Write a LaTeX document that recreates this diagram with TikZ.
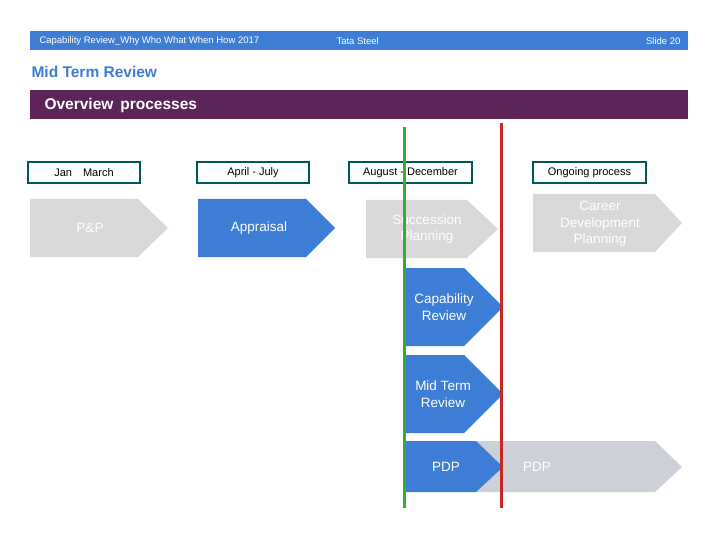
\documentclass[tikz,border=0pt]{standalone}
\usepackage{fontspec}
\setmainfont{Liberation Sans}
\begin{document}
\begin{tikzpicture}[x=1pt,y=-1pt,
  hdr/.style={draw=teal!70!black,line width=1.2pt,fill=white,font=\fontsize{11}{12}\selectfont},
  chtxt/.style={text=white,align=center,font=\fontsize{13.5}{16.5}\selectfont},
  gry/.style={fill=gray!30},
  blu/.style={fill=blue1}]
\definecolor{blue1}{HTML}{3E7DD6}
\definecolor{purp}{HTML}{5C2458}
\definecolor{gpdp}{HTML}{CDD0D6}
\useasboundingbox (0,0) rectangle (720,540);
\fill[white] (0,0) rectangle (720,540);
% header
\fill[blue1] (30,31) rectangle (688,50);
\node[text=white,font=\fontsize{9.5}{10}\selectfont,anchor=west] (h1) at (36,41) {Capability Review\_Why Who What When How 2017};
\node[text=white,font=\fontsize{9.5}{10}\selectfont,anchor=west] (h2) at (333,41) {Tata Steel};
\node[text=white,font=\fontsize{9.5}{10}\selectfont,anchor=east] (h3) at (684,41) {Slide 20};
\node[text=blue1,font=\bfseries\fontsize{15.5}{18}\selectfont,anchor=west] (t) at (28,72) {Mid Term Review};
\fill[purp] (30,90) rectangle (688,119);
\node[text=white,font=\bfseries\fontsize{15.5}{18}\selectfont,anchor=west] (o) at (41,105) {Overview\, processes};
% period boxes
\node[hdr,minimum width=112,minimum height=21] (b1) at (84,172.5) {Jan\quad March};
\node[hdr,minimum width=112,minimum height=21] (b2) at (253,172.5) {April - July};
\node[hdr,minimum width=123,minimum height=21] (b3) at (410.5,172.5) {August - December};
\node[hdr,minimum width=113,minimum height=21] (b4) at (589.5,172.5) {Ongoing process};
% chevrons
\fill[gry] (30,199) -- (138,199) -- (168,228) -- (138,257) -- (30,257) -- cycle;
\node[chtxt] (c1) at (90,228) {P\&P};
\fill[blu] (198,199) -- (306,199) -- (335,228) -- (306,257) -- (198,257) -- cycle;
\node[chtxt] (c2) at (259,228) {Appraisal};
\fill[gry] (366,200) -- (467,200) -- (498,229) -- (467,258) -- (366,258) -- cycle;
\node[chtxt] (c3) at (427,229) {Succession\\Planning};
\fill[gry] (533,194) -- (655,194) -- (682,223) -- (655,252) -- (533,252) -- cycle;
\node[chtxt] (c4) at (600,224) {Career\\Development\\Planning};
\fill[blu] (404,268) -- (464,268) -- (503,307) -- (464,346) -- (404,346) -- cycle;
\node[chtxt] (c5) at (444,307) {Capability\\Review};
\fill[blu] (404,355) -- (464,355) -- (503,394) -- (464,433) -- (404,433) -- cycle;
\node[chtxt] (c6) at (443,394) {Mid Term\\Review};
\fill[gpdp] (476,441) -- (655,441) -- (682,467) -- (655,492) -- (476,492) -- cycle;
\fill[blu] (404,441) -- (476,441) -- (503,467) -- (476,492) -- (404,492) -- cycle;
\node[chtxt] (c7) at (446,467) {PDP};
\node[chtxt] (c8) at (537,467) {PDP};
% lines
\coordinate (g1) at (404,127); \coordinate (g2) at (404,508);
\coordinate (r1) at (501,123); \coordinate (r2) at (501,508);
\draw[green!60!black!80,line width=3pt] (g1) -- (g2);
\draw[red!75!black!85,line width=3pt] (r1) -- (r2);
\end{tikzpicture}
\end{document}
